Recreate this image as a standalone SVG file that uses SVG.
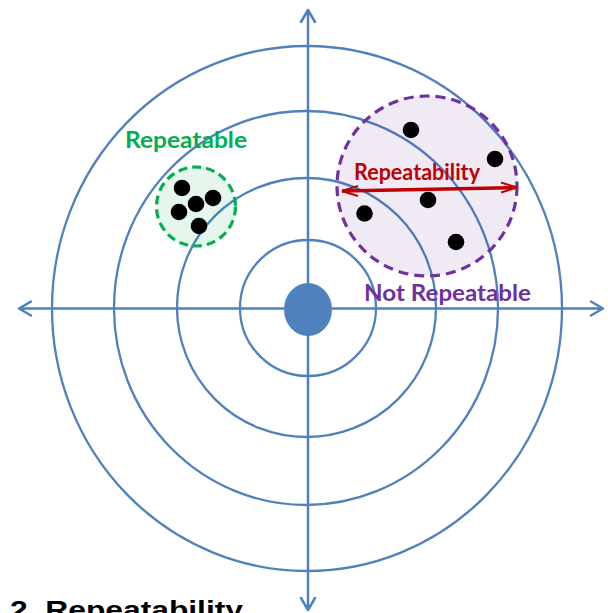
<svg xmlns="http://www.w3.org/2000/svg" width="608" height="613" viewBox="0 0 608 613">
<style>
.ring{fill:none;stroke:#4f81bd;stroke-width:2.300}
.axis{fill:none;stroke:#4f81bd;stroke-width:2.500;stroke-linecap:round;stroke-linejoin:round}
.dot{fill:#000}
.lbl{font-family:"Lato","Open Sans",sans-serif;font-weight:700}
</style>
<rect width="608" height="613" fill="#fff"/>
<g id="target">
<ellipse class="ring" cx="307" cy="308.500" rx="255" ry="262.500"/>
<ellipse class="ring" cx="306" cy="308" rx="192" ry="197"/>
<ellipse class="ring" cx="306.500" cy="307.500" rx="129.500" ry="129.500"/>
<ellipse class="ring" cx="308" cy="308" rx="68" ry="68"/>
<ellipse cx="308" cy="309.500" rx="24" ry="26.500" fill="#4f81bd"/>
</g>
<g id="connectors">
<path class="axis" d="M308 10V610M301 22L308 10L315 22M301 598L308 610L315 598"/>
<path class="axis" d="M19 308.500H603M31 301.500L19 308.500L31 315.500M591 301.500L603 308.500L591 315.500"/>
</g>
<g id="repeatable">
<circle cx="196" cy="206.500" r="39.500" fill="#00b050" fill-opacity=".1" stroke="#00b050" stroke-width="3.200" stroke-dasharray="9 5"/>
<circle class="dot" cx="182" cy="188" r="8.300"/>
<circle class="dot" cx="213" cy="198" r="8.300"/>
<circle class="dot" cx="196" cy="204" r="8.300"/>
<circle class="dot" cx="179" cy="212" r="8.300"/>
<circle class="dot" cx="199" cy="226" r="8.300"/>
<text class="lbl" x="125" y="148" font-size="23" fill="#00b050" textLength="122" lengthAdjust="spacingAndGlyphs">Repeatable</text>
</g>
<g id="not-repeatable">
<circle cx="427" cy="186" r="90" fill="#7030a0" fill-opacity=".1" stroke="#7030a0" stroke-width="3.200" stroke-dasharray="10 6"/>
<circle class="dot" cx="411" cy="130" r="8.300"/>
<circle class="dot" cx="495" cy="159" r="8.300"/>
<circle class="dot" cx="428" cy="200" r="8.300"/>
<circle class="dot" cx="364.500" cy="213.500" r="8.300"/>
<circle class="dot" cx="456" cy="242" r="8.300"/>
<text class="lbl" x="364" y="301" font-size="23" fill="#7030a0" textLength="167" lengthAdjust="spacingAndGlyphs">Not Repeatable</text>
</g>
<g id="repeatability">
<path d="M342 191L517 187.500" fill="none" stroke="#c00000" stroke-width="3.500"/>
<path d="M342 191L358 186M342 191L358 196M517 187.500L501 182.500M517 187.500L501 192.500" fill="none" stroke="#c00000" stroke-width="2"/>
<text class="lbl" x="354" y="180" font-size="22" fill="#c00000" textLength="126" lengthAdjust="spacingAndGlyphs">Repeatability</text>
</g>
<text x="10" y="618.500" font-family="'Liberation Sans',Arial,sans-serif" font-weight="700" font-size="26" fill="#000" textLength="233" lengthAdjust="spacingAndGlyphs">2. Repeatability</text>
</svg>
